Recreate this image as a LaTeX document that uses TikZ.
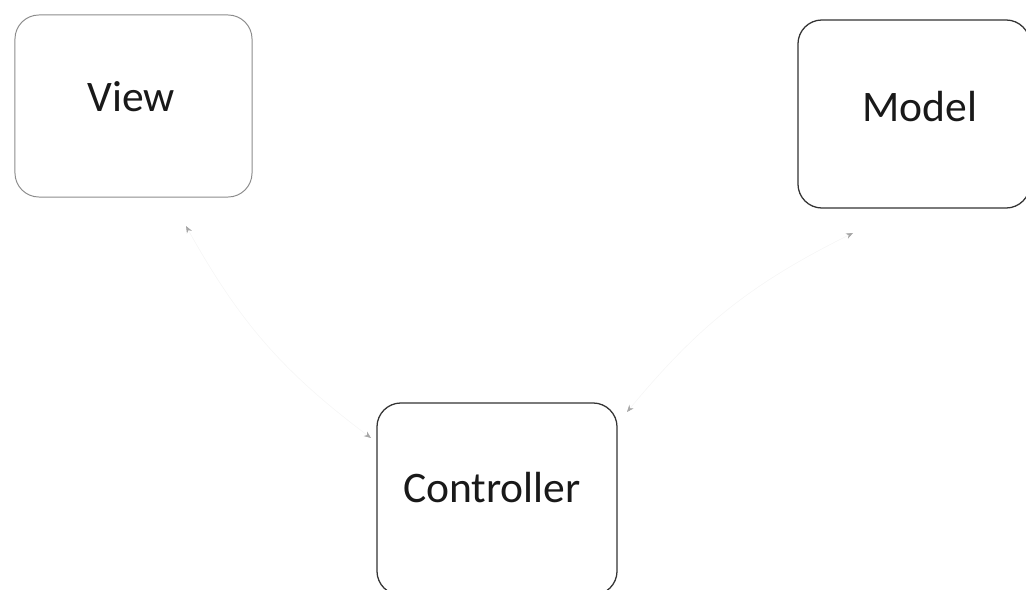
\documentclass[tikz,border=0pt]{standalone}
\usepackage{fontspec}
\setmainfont{Carlito}
\usetikzlibrary{arrows.meta}

\begin{document}
\begin{tikzpicture}[
    x=0.025cm, y=-0.025cm,
    box/.style={draw=black!80, line width=0.9pt, rounded corners=0.6cm},
    lbl/.style={font=\fontsize{31}{36}\selectfont, text=black!90, anchor=base},
    link/.style={draw=black!4, line width=0.4pt,
        {Stealth[black!35, length=5pt, width=4pt]}-{Stealth[black!35, length=5pt, width=4pt]}},
]
\useasboundingbox (0,0) rectangle (1026,590);

% Boxes
\node[box, draw=black!45, line width=0.7pt, minimum width=5.925cm, minimum height=4.55cm] (view) at (133.5,106) {};
\node[box, minimum width=5.8cm, minimum height=4.7cm] (model) at (914,114) {};
\node[box, minimum width=6cm, minimum height=4.8cm] (controller) at (497,499) {};

% Labels
\node[lbl] (viewtext) at (131,112) {View};
\node[lbl] (modeltext) at (920,122) {Model};
\node[lbl] (controllertext) at (492,502) {Controller};

% Arrow ends
\coordinate (view-end) at (186,226);
\coordinate (ctrl-left) at (371,438);
\coordinate (ctrl-right) at (627,412);
\coordinate (model-end) at (853,233);

% Connectors
\draw[link] (view-end) to[bend right=12] (ctrl-left);
\draw[link] (ctrl-right) to[bend left=12] (model-end);

\end{tikzpicture}
\end{document}
